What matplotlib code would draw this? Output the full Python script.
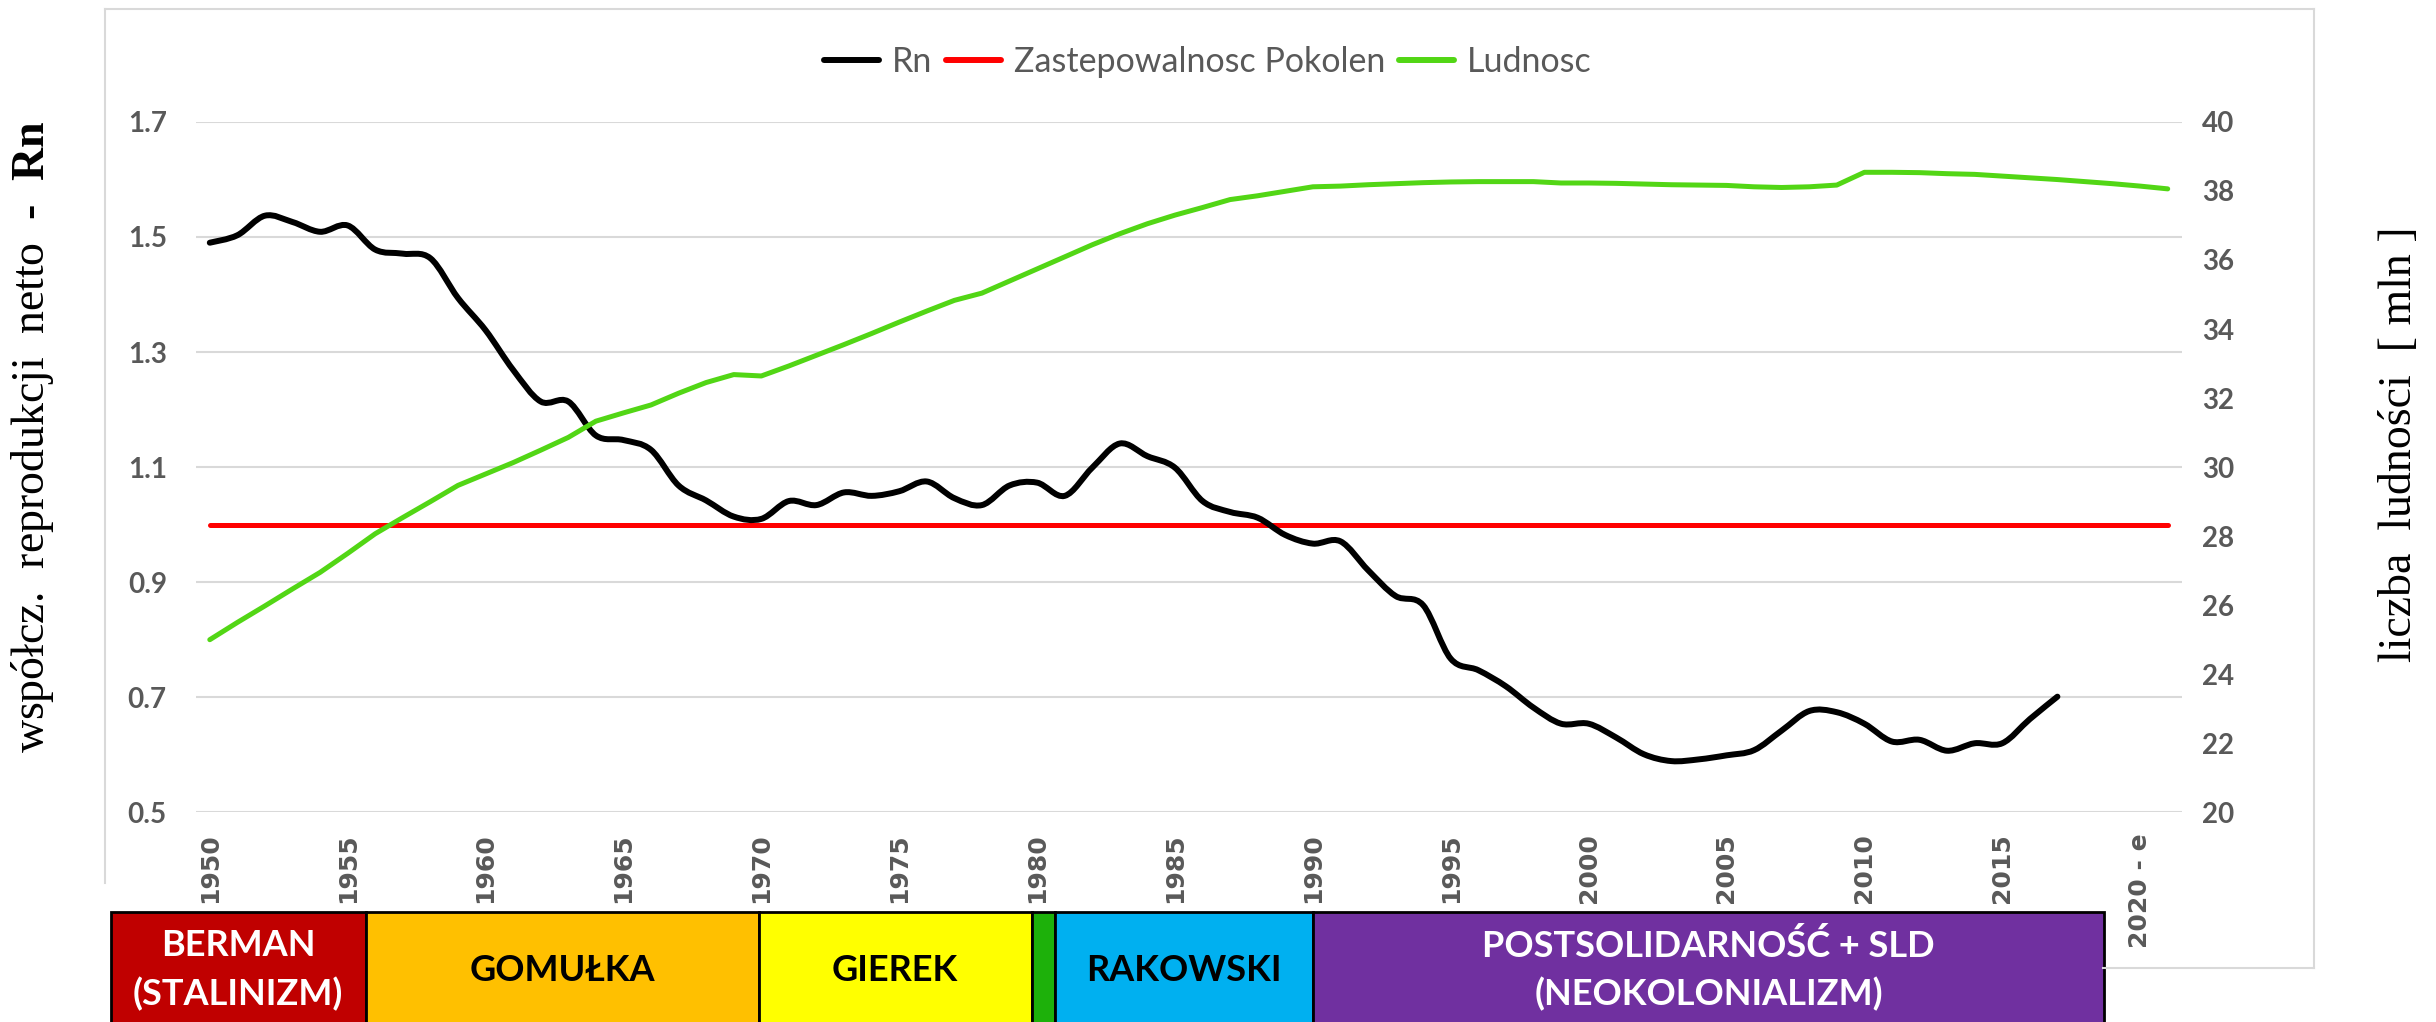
import numpy as np
import matplotlib.pyplot as plt
import matplotlib.transforms as mtransforms
from matplotlib.path import Path
from matplotlib.patches import PathPatch, Rectangle
from matplotlib.lines import Line2D

plt.rcParams['font.family'] = ['Lato', 'DejaVu Sans']
plt.rcParams['mathtext.fontset'] = 'custom'
plt.rcParams['mathtext.rm'] = 'Liberation Serif'
plt.rcParams['mathtext.bf'] = 'Liberation Serif:bold'

# dane
lata = list(range(1950, 2022))
etykiety_lat = [str(r) for r in lata]
etykiety_lat[70] = '2020 - e'

rn = [1.490, 1.503, 1.537, 1.526, 1.509, 1.520, 1.478, 1.471, 1.463, 1.394,
      1.338, 1.269, 1.214, 1.214, 1.155, 1.147, 1.130, 1.068, 1.042, 1.014,
      1.010, 1.041, 1.034, 1.056, 1.050, 1.058, 1.075, 1.046, 1.034, 1.068,
      1.073, 1.050, 1.099, 1.141, 1.119, 1.099, 1.041, 1.022, 1.012, 0.982,
      0.967, 0.971, 0.921, 0.876, 0.860, 0.767, 0.747, 0.719, 0.682, 0.654,
      0.654, 0.630, 0.601, 0.589, 0.592, 0.599, 0.608, 0.642, 0.676, 0.674,
      0.654, 0.623, 0.626, 0.607, 0.620, 0.620, 0.662, 0.701]

zastepowalnosc = [1.0] * len(lata)

ludnosc = [25.00, 25.50, 25.98, 26.47, 26.95, 27.50, 28.07, 28.54, 29.00, 29.47,
           29.80, 30.13, 30.49, 30.86, 31.33, 31.57, 31.80, 32.14, 32.45, 32.68,
           32.64, 32.93, 33.24, 33.55, 33.87, 34.20, 34.52, 34.83, 35.04, 35.39,
           35.74, 36.09, 36.44, 36.76, 37.05, 37.30, 37.52, 37.75, 37.86, 37.99,
           38.12, 38.14, 38.18, 38.21, 38.24, 38.26, 38.27, 38.27, 38.27, 38.23,
           38.23, 38.22, 38.20, 38.18, 38.17, 38.16, 38.12, 38.10, 38.12, 38.17,
           38.54, 38.54, 38.53, 38.50, 38.48, 38.43, 38.38, 38.33, 38.27, 38.21,
           38.14, 38.06]

# okresy rzadow (pasek pod wykresem)
okresy = ['BERMAN\n(STALINIZM)', 'GOMUŁKA', 'GIEREK', '', 'RAKOWSKI',
          'POSTSOLIDARNOŚĆ + SLD\n(NEOKOLONIALIZM)']
okresy_kolory = ['#C00000', '#FFC000', '#FFFF00', '#1DB10A', '#00B0F0', '#7030A0']
okresy_tekst = ['white', 'black', 'black', 'black', 'black', 'white']
okresy_granice = [-3.6, 5.65, 19.9, 29.8, 30.65, 40.0, 68.7]

szary = '#595959'
W, H = 2436, 1022


def wygladz(x, y):
    # gladka linia jak w Excelu (krzywe Beziera)
    x = np.asarray(x, float)
    y = np.asarray(y, float)
    n = len(x)
    verts = [(x[0], y[0])]
    codes = [Path.MOVETO]
    for i in range(n - 1):
        a = max(i - 1, 0)
        b = min(i + 2, n - 1)
        c1 = (x[i] + (x[i + 1] - x[a]) / 6, y[i] + (y[i + 1] - y[a]) / 6)
        c2 = (x[i + 1] - (x[b] - x[i]) / 6, y[i + 1] - (y[b] - y[i]) / 6)
        verts += [c1, c2, (x[i + 1], y[i + 1])]
        codes += [Path.CURVE4] * 3
    return Path(verts, codes)


fig = plt.figure(figsize=(W / 100, H / 100), dpi=100)
ax = fig.add_axes([196 / W, 1 - 812.3 / H, (2181.5 - 196) / W, (812.3 - 121.9) / H])
ax2 = ax.twinx()

idx = np.arange(len(lata))

ax.add_patch(PathPatch(wygladz(idx[:len(rn)], rn), fill=False, edgecolor='black',
                       lw=4.3, capstyle='round', joinstyle='round', zorder=3))
ax.plot(idx, zastepowalnosc, color='#FF0000', lw=3.6, solid_capstyle='round', zorder=2)
ax2.plot(idx, ludnosc, color='#52D615', lw=3.6, solid_capstyle='round')

ax.set_xlim(-0.5, len(lata) - 0.5)
ax.set_ylim(0.5, 1.7)
ax2.set_ylim(20, 40)
ax.set_yticks(np.arange(0.5, 1.71, 0.2))
ax.set_yticklabels(['%.1f' % v for v in np.arange(0.5, 1.71, 0.2)])
ax2.set_yticks(np.arange(20, 41, 2))

for a in (ax, ax2):
    for s in a.spines.values():
        s.set_visible(False)
    a.tick_params(length=0)
ax.tick_params(axis='y', pad=21, labelsize=20, labelcolor=szary)
ax.tick_params(axis='x', pad=15, labelcolor=szary)
ax2.tick_params(axis='y', pad=15, labelsize=20, labelcolor=szary)
for t in ax.get_yticklabels() + ax2.get_yticklabels():
    t.set_fontweight('bold')

# etykiety lat - na koncu, zeby nic ich nie nadpisalo
ax.set_xticks(idx[::5], labels=etykiety_lat[::5], rotation=90, va='top', ha='center',
              fontfamily='DejaVu Sans', fontweight='bold', fontsize=18)

ax.yaxis.grid(True, color='#D9D9D9', lw=1.5)
ax.set_axisbelow(True)

# legenda
uchwyty = [Line2D([], [], color='black', lw=4.3, solid_capstyle='round'),
           Line2D([], [], color='#FF0000', lw=4.3, solid_capstyle='round'),
           Line2D([], [], color='#52D615', lw=4.3, solid_capstyle='round')]
fig.legend(uchwyty, ['Rn', 'Zastepowalnosc Pokolen', 'Ludnosc'], loc='center',
           bbox_to_anchor=(1208 / W, 1 - 62 / H), ncol=3, frameon=False, fontsize=24.5,
           handlelength=1.6, handletextpad=0.4, columnspacing=0.4, labelcolor=szary)

# opisy osi
fig.text(33 / W, 1 - 437 / H, r'współcz.  reprodukcji  netto  -  $\mathbf{Rn}$',
         rotation=90, ha='center', va='center', family='Liberation Serif', fontsize=33)
fig.text(2400 / W, 1 - 444 / H, 'liczba  ludności  [ mln ]',
         rotation=90, ha='center', va='center', family='Liberation Serif', fontsize=33)

# ramka obszaru wykresu
ramka = dict(color='#D9D9D9', lw=1.5, transform=fig.transFigure)
x0, x1, y0, y1 = 105 / W, 2314 / W, 1 - 968 / H, 1 - 9 / H
fig.add_artist(Line2D([x0, x1], [y1, y1], **ramka))
fig.add_artist(Line2D([x1, x1], [y0, y1], **ramka))
fig.add_artist(Line2D([2103 / W, x1], [y0, y0], **ramka))
fig.add_artist(Line2D([x0, x0], [1 - 883 / H, y1], **ramka))

# pasek z okresami
tr = mtransforms.blended_transform_factory(ax.transData, fig.transFigure)
gora = 1 - 912 / H
for i, nazwa in enumerate(okresy):
    lewa, prawa = okresy_granice[i], okresy_granice[i + 1]
    ax.add_patch(Rectangle((lewa, -0.05), prawa - lewa, gora + 0.05, transform=tr,
                           facecolor=okresy_kolory[i], edgecolor='black', lw=2,
                           clip_on=False, zorder=5))
    if nazwa:
        ax.text((lewa + prawa) / 2, 1 - 970 / H, nazwa, transform=tr, ha='center',
                va='center', fontsize=26, fontweight='bold', color=okresy_tekst[i],
                linespacing=1.5, zorder=6, clip_on=False)

plt.savefig('out.png', dpi=100)
